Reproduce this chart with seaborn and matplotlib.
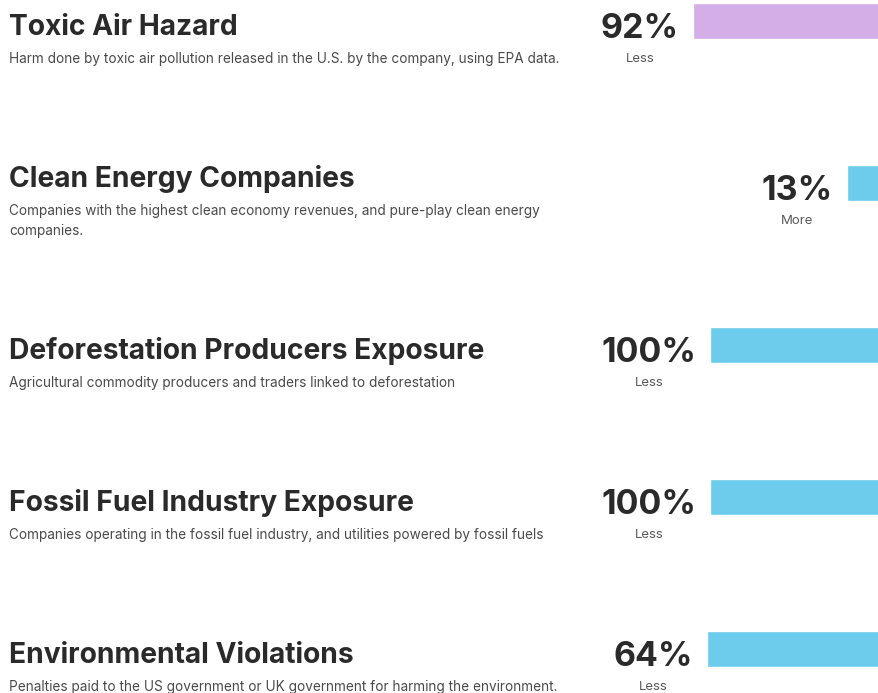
import matplotlib
matplotlib.use("Agg")
import matplotlib.pyplot as plt
import seaborn as sns

# === Data ===
titles = [
    "Toxic Air Hazard",
    "Clean Energy Companies",
    "Deforestation Producers Exposure",
    "Fossil Fuel Industry Exposure",
    "Environmental Violations",
]
descriptions = [
    "Harm done by toxic air pollution released in the U.S. by the company, using EPA data.",
    "Companies with the highest clean economy revenues, and pure-play clean energy\ncompanies.",
    "Agricultural commodity producers and traders linked to deforestation",
    "Companies operating in the fossil fuel industry, and utilities powered by fossil fuels",
    "Penalties paid to the US government or UK government for harming the environment.",
]
percentages = [92, 13, 100, 100, 64]
directions = ["Less", "More", "Less", "Less", "Less"]
bar_colors = ["#d4aee7", "#6dcbeb", "#6dcbeb", "#6dcbeb", "#6dcbeb"]

# === Layout (pixels) ===
W, H = 879, 693
pct_x = [640, 797, 649, 649, 653]
row_gap = 152
line_gap = 20
bar_h = 36
bar_scale = 320  # px for 100%

sns.set_theme(style="white")
plt.rcParams["font.family"] = ["Inter", "DejaVu Sans"]

fig = plt.figure(figsize=(W / 100, H / 100), dpi=100)
ax = fig.add_axes([0, 0, 1, 1])
ax.set_xlim(0, W)
ax.set_ylim(H, 0)
ax.axis("off")

dark = "#2a2a2a"
grey = "#4a4a4a"

centers = []
y = 24.5
for d in descriptions:
    centers.append(y)
    y += row_gap + line_gap * (d.count("\n"))

pct_texts = []
for i, (t, d, p, lab) in enumerate(zip(titles, descriptions, percentages, directions)):
    c = centers[i]
    extra = 10 * d.count("\n")
    ax.text(9, c + 10.5, t, fontsize=20.3, fontweight="bold", color=dark, va="baseline", ha="left")
    for k, line in enumerate(d.split("\n")):
        ax.text(9, c + 33 + 5 + line_gap * k, line, fontsize=9.8, color=grey, va="baseline", ha="left")
    pt = ax.text(pct_x[i], c + extra + 13.5, f"{p}%", fontsize=24.5, fontweight="bold",
                 color=dark, va="baseline", ha="center")
    pct_texts.append(pt)
    ax.text(pct_x[i], c + extra + 33 + 4.5, lab, fontsize=9.5, color="#5a5a5a",
            va="baseline", ha="center")

fig.canvas.draw()
renderer = fig.canvas.get_renderer()

# Bars start right after the percentage label and run off the right edge
for i, p in enumerate(percentages):
    ext = pct_texts[i].get_window_extent(renderer)
    left = ext.x1 + 14
    bc = centers[i] + 10 * descriptions[i].count("\n") - 3.5
    bax = fig.add_axes([left / W, (H - bc - bar_h / 2) / H, bar_scale / W, bar_h / H])
    sns.barplot(x=[p], y=[titles[i]], orient="h", color=bar_colors[i], width=1,
                saturation=1, ax=bax)
    bax.set_xlim(0, 100)
    bax.set_ylim(0.5, -0.5)
    bax.axis("off")

fig.savefig("out.png", dpi=100, facecolor="white")
